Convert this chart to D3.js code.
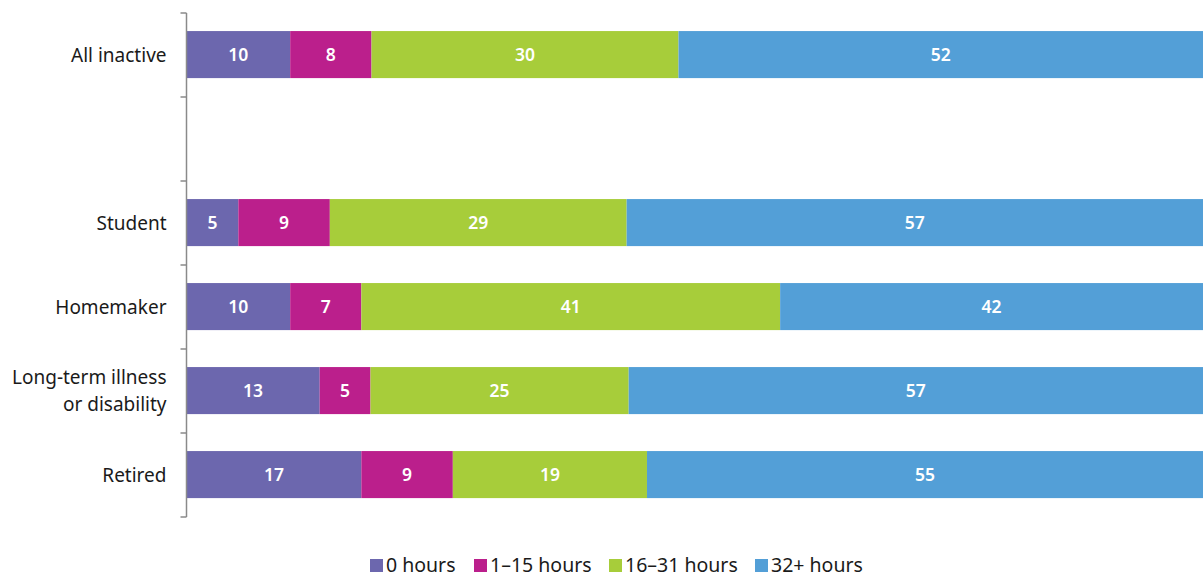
<!DOCTYPE html>
<html>
<head>
<meta charset="utf-8">
<script src="https://cdn.jsdelivr.net/npm/d3@7"></script>
<style>
  body { margin: 0; background: #fff; }
  svg { display: block; font-family: "Source Sans Pro", "Noto Sans", "Open Sans", sans-serif; }
</style>
</head>
<body>
<svg id="chart"></svg>
<script>
const categories = ['All inactive', '', 'Student', 'Homemaker', 'Long-term illness|or disability', 'Retired'];
const seriesNames = ['0 hours', '1–15 hours', '16–31 hours', '32+ hours'];
const hours0 = [10.2, null, 5.1, 10.2, 13.1, 17.2];
const hours1to15 = [8.0, null, 9.0, 7.0, 5.0, 9.0];
const hours16to31 = [30.2, null, 29.2, 41.2, 25.4, 19.1];
const hours32plus = [51.6, null, 56.7, 41.6, 56.5, 54.7];
const labels0 = [10, null, 5, 10, 13, 17];
const labels1to15 = [8, null, 9, 7, 5, 9];
const labels16to31 = [30, null, 29, 41, 25, 19];
const labels32plus = [52, null, 57, 42, 57, 55];
const colors = ['#6c67ae', '#bb1f8c', '#a7cd3a', '#539fd7'];

const W = 1203, H = 573;
const margin = { top: 13, right: 0, bottom: 56, left: 186.5 };
const width = W - margin.left - margin.right;
const height = H - margin.top - margin.bottom;

const svg = d3.select('#chart').attr('width', W).attr('height', H);
const g = svg.append('g').attr('transform', `translate(${margin.left},${margin.top})`);

const seriesValues = [hours0, hours1to15, hours16to31, hours32plus];
const seriesLabels = [labels0, labels1to15, labels16to31, labels32plus];
const rows = categories.map((c, i) => {
  const r = { key: i };
  seriesNames.forEach((s, j) => { r[s] = seriesValues[j][i] || 0; });
  return r;
});
const stacked = d3.stack().keys(seriesNames)(rows);

const x = d3.scaleLinear().domain([0, 100]).range([0, width]);
const y = d3.scaleBand().domain(d3.range(categories.length)).range([0, height]).padding(0);
const barOff = y.step() * 0.215;
const barH = y.step() * 0.56;

// bars
stacked.forEach((layer, j) => {
  const grp = g.append('g');
  layer.forEach((d, i) => {
    if (seriesValues[j][i] == null) return;
    grp.append('rect')
      .attr('x', x(d[0]))
      .attr('y', y(i) + barOff)
      .attr('width', x(d[1]) - x(d[0]))
      .attr('height', barH)
      .attr('fill', colors[j]);
    grp.append('text')
      .attr('x', (x(d[0]) + x(d[1])) / 2)
      .attr('y', y(i) + barOff + barH / 2)
      .attr('dy', '0.36em')
      .attr('text-anchor', 'middle')
      .attr('fill', '#fff')
      .attr('font-size', 17.5)
      .attr('font-weight', 600)
      .text(seriesLabels[j][i]);
  });
});

// axis with ticks at band edges
const axis = g.append('g');
axis.append('line')
  .attr('x1', 0).attr('x2', 0).attr('y1', 0).attr('y2', height)
  .attr('stroke', '#8a8a8a').attr('stroke-width', 1.5);
d3.range(categories.length + 1).forEach(i => {
  const yy = i < categories.length ? y(i) : height;
  axis.append('line')
    .attr('x1', -6).attr('x2', 0).attr('y1', yy).attr('y2', yy)
    .attr('stroke', '#8a8a8a').attr('stroke-width', 1.5);
});
categories.forEach((c, i) => {
  const parts = c ? c.split('|') : [];
  const t = axis.append('text')
    .attr('x', -20)
    .attr('y', y(i) + y.bandwidth() / 2)
    .attr('text-anchor', 'end')
    .attr('fill', '#1a1a1a')
    .attr('font-size', 19);
  parts.forEach((p, k) => {
    t.append('tspan')
      .attr('x', -20)
      .attr('dy', k === 0 ? (0.35 - (parts.length - 1) * 0.7) + 'em' : '1.4em')
      .text(p);
  });
});

// legend
const legendX = [370, 474, 609, 755];
const legend = svg.append('g').attr('transform', 'translate(0,559)');
seriesNames.forEach((s, j) => {
  legend.append('rect')
    .attr('x', legendX[j]).attr('y', 0)
    .attr('width', 13).attr('height', 13)
    .attr('fill', colors[j]);
  legend.append('text')
    .attr('x', legendX[j] + 16).attr('y', 6)
    .attr('dy', '0.36em')
    .attr('fill', '#1a1a1a')
    .attr('font-size', 19.5)
    .text(s);
});
</script>
</body>
</html>
